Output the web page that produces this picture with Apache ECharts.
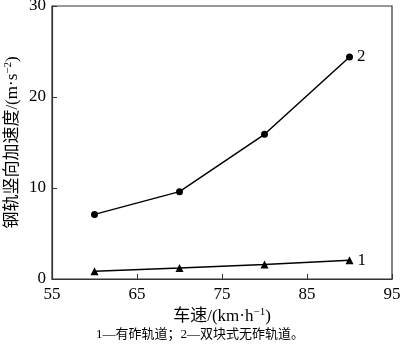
<!DOCTYPE html>
<html><head><meta charset="utf-8">
<script src="https://cdn.jsdelivr.net/npm/echarts@6/dist/echarts.min.js"></script>
<style>html,body{margin:0;padding:0;background:#fff}#c{width:400px;height:347px}</style>
</head><body><div id="c"></div>
<script>
const speeds = [60, 70, 80, 90];
const ballasted = [0.85, 1.2, 1.6, 2.05];
const ballastless = [7.1, 9.6, 15.9, 24.4];
const seriesNames = ['1', '2'];
const xTicks = [55, 65, 75, 85, 95];
const yTicks = [0, 10, 20, 30];
const caption = '1—有砟轨道；2—双块式无砟轨道。';

const FONT = '"Liberation Serif", "Times New Roman", "Noto Sans CJK SC", serif';
const chart = echarts.init(document.getElementById('c'));
function pts(arr){ return speeds.map((x,i)=>[x, arr[i]]); }
function lastLabel(name){
  return {show:true, position:'right', distance:4, formatter:(p)=> p.dataIndex===speeds.length-1 ? name : '',
    color:'#000', fontFamily:FONT, fontSize:17};
}
const nameRich = {a:{fontFamily:FONT,fontSize:17,lineHeight:20,color:'#000'},
                  s:{fontFamily:FONT,fontSize:11,lineHeight:11,verticalAlign:'top',color:'#000'}};
chart.setOption({
  animation:false,
  grid:{left:52, top:6, right:8, bottom:68, containLabel:false, outerBoundsMode:'none'},
  xAxis:{type:'value', min:xTicks[0], max:xTicks[xTicks.length-1], interval:10,
    name:'{a|车速/(km·h}{s|−1}{a|)}', nameLocation:'middle', nameGap:28, nameMoveOverlap:false,
    nameTextStyle:{rich:nameRich},
    axisLine:{show:true,onZero:false,lineStyle:{color:'#333',width:1.2}},
    axisTick:{show:true,inside:true,length:5,lineStyle:{color:'#333'}},
    axisLabel:{color:'#000',fontFamily:FONT,fontSize:17,margin:7},
    splitLine:{show:false}},
  yAxis:{type:'value', min:yTicks[0], max:yTicks[yTicks.length-1], interval:10,
    name:'{a|钢轨竖向加速度/(m·s}{s|−2}{a|)}', nameLocation:'middle', nameGap:29, nameRotate:90, nameMoveOverlap:false,
    nameTextStyle:{rich:nameRich},
    axisLine:{show:true,lineStyle:{color:'#333',width:1.2}},
    axisTick:{show:true,inside:true,length:5,lineStyle:{color:'#333'}},
    axisLabel:{color:'#000',fontFamily:FONT,fontSize:17,margin:6},
    splitLine:{show:false}},
  graphic:[
    {type:'rect', shape:{x:52,y:6,width:340,height:273}, style:{fill:'none',stroke:'#333',lineWidth:1.2}, silent:true},
    {type:'text', left:'center', top:328, style:{text:caption, fontFamily:FONT, fontSize:13, fill:'#000'}}
  ],
  series:[
    {name:seriesNames[0], type:'line', data:pts(ballasted), symbol:'triangle', symbolSize:8,
      lineStyle:{color:'#000',width:1.5}, itemStyle:{color:'#000'}, label:lastLabel(seriesNames[0])},
    {name:seriesNames[1], type:'line', data:pts(ballastless), symbol:'circle', symbolSize:7,
      lineStyle:{color:'#000',width:1.5}, itemStyle:{color:'#000'}, label:lastLabel(seriesNames[1])}
  ]
});
</script></body></html>
